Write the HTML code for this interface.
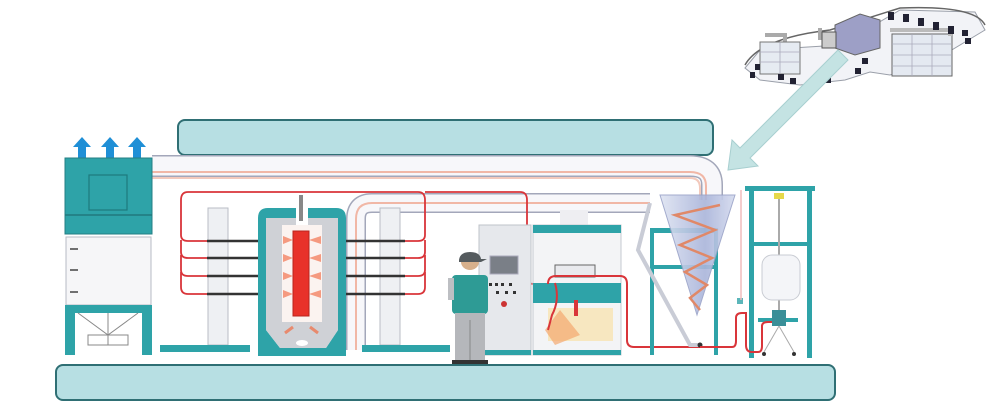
<!DOCTYPE html>
<html><head><meta charset="utf-8"><style>
html,body{margin:0;padding:0;background:#fff;width:1000px;height:418px;overflow:hidden}
svg{display:block}
</style></head><body>
<svg width="1000" height="418" viewBox="0 0 1000 418" xmlns="http://www.w3.org/2000/svg">
<defs>
<linearGradient id="cg" x1="0" x2="1"><stop offset="0" stop-color="#dfe4f2"/><stop offset="0.6" stop-color="#a9b4da"/><stop offset="1" stop-color="#d4daee"/></linearGradient>
</defs>
<rect width="1000" height="418" fill="#fff"/>
<!-- factory top right -->
<g>
<path d="M745 68 L760 50 L840 45 L900 10 L975 12 L985 30 L935 60 L890 75 L870 72 L845 80 L800 85 L760 80 Z" fill="#f2f3f7" stroke="#9a9fa9" stroke-width="1"/>
<path d="M745 65 Q760 38 830 30 L900 8 Q975 5 985 25" fill="none" stroke="#666" stroke-width="1.5"/>
<path d="M765 35 H785 V45 M820 28 V40" fill="none" stroke="#aaa" stroke-width="4"/>
<rect x="760" y="42" width="40" height="32" fill="#e6ebf2" stroke="#777" stroke-width="1"/>
<g stroke="#aab" stroke-width="0.8"><line x1="760" y1="52" x2="800" y2="52"/><line x1="760" y1="62" x2="800" y2="62"/><line x1="780" y1="42" x2="780" y2="74"/></g>
<path d="M835 25 L860 14 L880 20 L880 48 L855 55 L835 48 Z" fill="#9d9fc6" stroke="#666" stroke-width="1"/>
<rect x="822" y="32" width="14" height="16" fill="#ccc" stroke="#555"/>
<rect x="892" y="34" width="60" height="42" fill="#e4e9f1" stroke="#666" stroke-width="1"/>
<g stroke="#aab" stroke-width="0.8"><line x1="892" y1="44" x2="952" y2="44"/><line x1="892" y1="55" x2="952" y2="55"/><line x1="892" y1="66" x2="952" y2="66"/><line x1="912" y1="34" x2="912" y2="76"/><line x1="932" y1="34" x2="932" y2="76"/></g>
<path d="M890 30 H950 V36" fill="none" stroke="#bbb" stroke-width="4"/>
<g fill="#223">
<rect x="888" y="12" width="6" height="8"/><rect x="903" y="14" width="6" height="8"/><rect x="918" y="18" width="6" height="8"/><rect x="933" y="22" width="6" height="8"/><rect x="948" y="26" width="6" height="8"/><rect x="962" y="30" width="6" height="6"/><rect x="965" y="38" width="6" height="6"/>
<rect x="778" y="74" width="6" height="6"/><rect x="790" y="78" width="6" height="6"/><rect x="855" y="68" width="6" height="6"/><rect x="862" y="58" width="6" height="6"/><rect x="755" y="64" width="5" height="6"/><rect x="750" y="72" width="5" height="6"/><rect x="825" y="78" width="6" height="5"/>
</g>
</g>
<!-- big diagonal arrow -->
<path d="M838 50 L848 60 L750 158 L758 166 L728 170 L732 140 L740 148 Z" fill="#c4e3e3" stroke="#a8cfd0" stroke-width="1"/>
<!-- banners -->
<rect x="178" y="120" width="535" height="35" rx="7" fill="#b7dfe3" stroke="#2f6f74" stroke-width="2"/>
<rect x="56" y="365" width="779" height="35" rx="7" fill="#b7dfe3" stroke="#2f6f74" stroke-width="2"/>
<!-- top duct -->
<path d="M152 166 H690 Q712 166 712 185 V200" fill="none" stroke="#a3a7ba" stroke-width="22"/>
<path d="M152 166 H690 Q712 166 712 185 V200" fill="none" stroke="#f7f7fa" stroke-width="19"/>
<path d="M152 172 H690 Q706 172 706 186 V200" fill="none" stroke="#f1b7a6" stroke-width="2"/>
<path d="M152 178 H690 Q700 178 700 188 V200" fill="none" stroke="#f3c9bc" stroke-width="2"/>
<!-- second duct -->
<path d="M650 203 H372 Q356 203 356 219 V350" fill="none" stroke="#a3a7ba" stroke-width="20"/>
<path d="M650 203 H372 Q356 203 356 219 V350" fill="none" stroke="#f7f7fa" stroke-width="17"/>
<path d="M650 203 H372 Q356 203 356 219 V350" fill="none" stroke="#f1b7a6" stroke-width="2"/>
<rect x="560" y="210" width="28" height="16" fill="#eeeef2"/>
<!-- dust collector -->
<g fill="#1f8fd6">
<path d="M78 158 V147 H73 L82 137 L91 147 H86 V158 Z"/>
<path d="M106 158 V147 H101 L110 137 L119 147 H114 V158 Z"/>
<path d="M133 158 V147 H128 L137 137 L146 147 H141 V158 Z"/>
</g>
<rect x="65" y="158" width="87" height="76" fill="#2ea3a8" stroke="#247f84"/>
<line x1="65" y1="215" x2="152" y2="215" stroke="#20797d" stroke-width="1.5"/>
<rect x="89" y="175" width="38" height="35" fill="none" stroke="#1e7a7e" stroke-width="1.2"/>
<rect x="66" y="237" width="85" height="68" fill="#f6f6f8" stroke="#b7bbc4"/>
<g stroke="#444" stroke-width="1.5"><line x1="70" y1="249" x2="78" y2="249"/><line x1="70" y1="270" x2="78" y2="270"/><line x1="70" y1="292" x2="78" y2="292"/></g>
<rect x="65" y="305" width="87" height="8" fill="#2ea3a8"/>
<rect x="65" y="305" width="10" height="50" fill="#2ea3a8"/>
<rect x="142" y="305" width="10" height="50" fill="#2ea3a8"/>
<path d="M78 313 L108 335 L138 313 M108 313 V345 M88 335 H128 V345 H88 Z" fill="none" stroke="#888" stroke-width="1"/>
<!-- stands -->
<rect x="208" y="208" width="20" height="137" fill="#eef0f3" stroke="#b9bdc6"/>
<rect x="160" y="345" width="90" height="7" fill="#2ea3a8"/>
<rect x="380" y="208" width="20" height="137" fill="#eef0f3" stroke="#b9bdc6"/>
<rect x="362" y="345" width="88" height="7" fill="#2ea3a8"/>
<!-- red loops -->
<g fill="none" stroke="#d9353a" stroke-width="1.8">
<path d="M215 192 H188 Q181 192 181 200 V235 Q181 241 188 241 H207"/>
<path d="M181 240 V252 Q181 258 188 258 H207"/>
<path d="M181 255 V270 Q181 276 188 276 H207"/>
<path d="M181 272 V287 Q181 294 188 294 H207"/>
<path d="M390 192 H418 Q425 192 425 200 V235 Q425 241 418 241 H405"/>
<path d="M425 240 V252 Q425 258 418 258 H405"/>
<path d="M425 255 V270 Q425 276 418 276 H405"/>
<path d="M425 272 V287 Q425 294 418 294 H405"/>
<path d="M215 192 H390"/>
<path d="M425 192 H520 Q527 192 527 200 V278 Q527 284 534 284 H548"/>
</g>
<g stroke="#333" stroke-width="2.5">
<line x1="207" y1="241" x2="270" y2="241"/><line x1="207" y1="258" x2="270" y2="258"/><line x1="207" y1="276" x2="270" y2="276"/><line x1="207" y1="294" x2="270" y2="294"/>
<line x1="343" y1="241" x2="405" y2="241"/><line x1="343" y1="258" x2="405" y2="258"/><line x1="343" y1="276" x2="405" y2="276"/><line x1="343" y1="294" x2="405" y2="294"/>
</g>
<!-- furnace -->
<path d="M258 356 V218 Q258 208 268 208 H296 V218 H266 V330 L280 348 H326 L338 330 V218 H308 V208 H336 Q346 208 346 218 V356 Z" fill="#2ea3a8"/>
<path d="M266 218 H296 V225 H282 V322 H322 V225 H308 V218 H338 V330 L326 348 H280 L266 330 Z" fill="#cfd1d6"/>
<rect x="282" y="225" width="40" height="97" fill="#fbf3f0"/>
<rect x="293" y="231" width="16" height="85" fill="#e8322a" stroke="#b8241e"/>
<rect x="299" y="195" width="4" height="26" fill="#888"/>
<g fill="#f59a80"><path d="M283 236 l10 4 -10 4z"/><path d="M283 254 l10 4 -10 4z"/><path d="M283 272 l10 4 -10 4z"/><path d="M283 290 l10 4 -10 4z"/><path d="M321 236 l-12 4 12 4z"/><path d="M321 254 l-12 4 12 4z"/><path d="M321 272 l-12 4 12 4z"/><path d="M321 290 l-12 4 12 4z"/></g>
<path d="M285 333 l8 -6 M318 333 l-8 -6" stroke="#e88a6e" stroke-width="3"/>
<ellipse cx="302" cy="343" rx="6" ry="3" fill="#fff"/>
<!-- control cabinet -->
<rect x="479" y="225" width="52" height="130" fill="#e6e8ec" stroke="#bfc3ca"/>
<rect x="490" y="256" width="28" height="18" fill="#7a7f87" stroke="#aab"/>
<g fill="#333"><rect x="489" y="283" width="3" height="3"/><rect x="495" y="283" width="3" height="3"/><rect x="501" y="283" width="3" height="3"/><rect x="509" y="283" width="3" height="3"/><rect x="496" y="291" width="3" height="3"/><rect x="505" y="291" width="3" height="3"/><rect x="513" y="291" width="3" height="3"/></g>
<circle cx="504" cy="304" r="3" fill="#c33"/>
<rect x="479" y="350" width="52" height="5" fill="#2ea3a8"/>
<!-- machine -->
<rect x="533" y="225" width="88" height="130" fill="#f3f4f6" stroke="#c6cad0"/>
<rect x="533" y="225" width="88" height="8" fill="#2ea3a8"/>
<rect x="533" y="283" width="88" height="20" fill="#2ea3a8"/>
<rect x="555" y="265" width="40" height="12" fill="#e9eaee" stroke="#666"/>
<rect x="548" y="308" width="65" height="33" fill="#f7e4b3" opacity="0.8"/>
<path d="M545 330 L560 310 L580 335 L555 345 Z" fill="#f3a86f" opacity="0.7"/>
<rect x="533" y="350" width="88" height="5" fill="#2ea3a8"/>
<rect x="574" y="300" width="4" height="16" fill="#d9353a"/>
<path d="M548 284 Q548 276 556 276 H620 Q627 276 627 284 V340 Q627 347 634 347 H700" fill="none" stroke="#d9353a" stroke-width="2"/>
<path d="M555 283 Q560 300 552 315 L548 330" fill="none" stroke="#d9353a" stroke-width="2"/>
<!-- person -->
<ellipse cx="470" cy="262" rx="9" ry="8" fill="#d7b08c"/>
<path d="M459 260 Q460 252 470 252 Q480 252 481 259 H487 L481 262 H459 Z" fill="#555b5e"/>
<rect x="452" y="275" width="36" height="39" rx="4" fill="#2e9b95"/>
<rect x="448" y="278" width="6" height="22" fill="#bdbfc3"/>
<rect x="455" y="313" width="30" height="50" fill="#b5b7bb"/>
<line x1="470" y1="320" x2="470" y2="363" stroke="#888"/>
<rect x="452" y="360" width="36" height="4" fill="#333"/>
<!-- cyclone -->
<rect x="650" y="228" width="68" height="5" fill="#2ea3a8"/>
<rect x="650" y="228" width="4" height="127" fill="#2ea3a8"/>
<rect x="714" y="228" width="4" height="127" fill="#2ea3a8"/>
<rect x="650" y="265" width="68" height="4" fill="#2ea3a8"/>
<path d="M660 195 L735 195 L697 315 Z" fill="url(#cg)" stroke="#9aa3c8" opacity="0.9"/>
<path d="M720 205 L675 215 L715 230 L680 245 L712 258 L685 272 L707 285 L690 298 L700 310" fill="none" stroke="#e08868" stroke-width="2.5"/>
<path d="M650 203 L638 250 L690 345 L700 345" fill="none" stroke="#c9ccd6" stroke-width="4"/>
<circle cx="700" cy="345" r="2.5" fill="#333"/>
<!-- right frame -->
<rect x="745" y="186" width="70" height="5" fill="#2ea3a8"/>
<rect x="749" y="186" width="5" height="172" fill="#2ea3a8"/>
<rect x="807" y="186" width="5" height="172" fill="#2ea3a8"/>
<rect x="752" y="242" width="58" height="4" fill="#2ea3a8"/>
<rect x="774" y="193" width="10" height="6" fill="#e6d84a"/>
<line x1="779" y1="199" x2="779" y2="312" stroke="#aaa" stroke-width="2"/>
<rect x="762" y="255" width="38" height="45" rx="10" fill="#f4f5f8" stroke="#c9ccd3"/>
<rect x="758" y="318" width="40" height="4" fill="#2ea3a8"/>
<rect x="772" y="310" width="14" height="16" fill="#3a8f98"/>
<path d="M779 326 L764 352 M779 326 L794 352" stroke="#aaa"/>
<circle cx="764" cy="354" r="2" fill="#333"/><circle cx="794" cy="354" r="2" fill="#333"/>
<rect x="737" y="298" width="6" height="6" fill="#5bb6ba"/>
<line x1="741" y1="190" x2="741" y2="300" stroke="#f0bcbc" stroke-width="1.5"/>
<path d="M700 347 H732 Q736 347 736 341 V318 Q736 313 742 313 H746 V345 Q746 352 752 352 H758 Q762 352 762 346 V326 Q762 322 768 322 H772" fill="none" stroke="#d9353a" stroke-width="2"/>
</svg>
</body></html>
